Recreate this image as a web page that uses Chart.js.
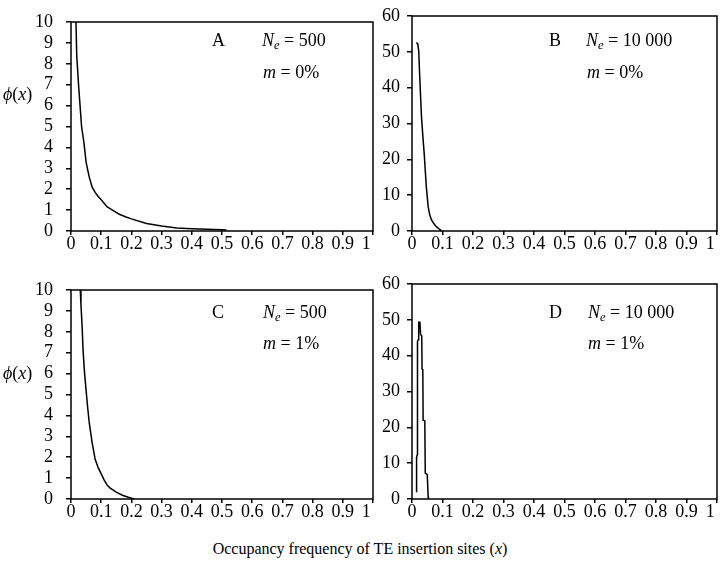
<!DOCTYPE html>
<html>
<head>
<meta charset="utf-8">
<script src="https://cdn.jsdelivr.net/npm/chart.js@4.4.1/dist/chart.umd.min.js"></script>
<style>
  html, body { margin: 0; padding: 0; background: #fff; overflow: hidden; }
  #wrap { position: relative; width: 720px; height: 563px; font-family: "Liberation Serif", "Times New Roman", serif; color: #000; }
  canvas { position: absolute; }
  .t { position: absolute; font-size: 18px; line-height: 1; white-space: nowrap; }
  .t sub { font-size: 0.7em; vertical-align: -0.25em; line-height: 0; }
</style>
</head>
<body>
<div id="wrap">
  <canvas id="cA" width="380" height="262" style="left:0;top:0"></canvas>
  <canvas id="cB" width="348" height="262" style="left:372px;top:0"></canvas>
  <canvas id="cC" width="380" height="262" style="left:0;top:268px"></canvas>
  <canvas id="cD" width="348" height="262" style="left:372px;top:268px"></canvas>

  <div class="t" style="left:3px;top:85px"><i>ϕ</i>(<i>x</i>)</div>
  <div class="t" style="left:3px;top:364px"><i>ϕ</i>(<i>x</i>)</div>

  <div class="t" style="left:212px;top:31px">A</div>
  <div class="t" style="left:262px;top:31px"><i>N</i><sub><i>e</i></sub> = 500</div>
  <div class="t" style="left:263px;top:63px"><i>m</i> = 0%</div>

  <div class="t" style="left:549px;top:31px">B</div>
  <div class="t" style="left:586px;top:31px"><i>N</i><sub><i>e</i></sub> = 10 000</div>
  <div class="t" style="left:587px;top:63px"><i>m</i> = 0%</div>

  <div class="t" style="left:212px;top:303px">C</div>
  <div class="t" style="left:263px;top:303px"><i>N</i><sub><i>e</i></sub> = 500</div>
  <div class="t" style="left:263px;top:334px"><i>m</i> = 1%</div>

  <div class="t" style="left:549px;top:303px">D</div>
  <div class="t" style="left:588px;top:303px"><i>N</i><sub><i>e</i></sub> = 10 000</div>
  <div class="t" style="left:588px;top:334px"><i>m</i> = 1%</div>

  <div class="t" style="left:0;width:720px;text-align:center;top:541px;font-size:16px">Occupancy frequency of TE insertion sites (<i>x</i>)</div>
</div>
<script>
// x ticks shared by all panels
var xTicks = [0, 0.1, 0.2, 0.3, 0.4, 0.5, 0.6, 0.7, 0.8, 0.9, 1];

// A: Ne = 500, m = 0%
var xA = [0.016, 0.019, 0.025, 0.030, 0.035, 0.043, 0.050, 0.060, 0.070, 0.080, 0.090, 0.100, 0.120, 0.140, 0.160, 0.180, 0.200, 0.250, 0.300, 0.350, 0.400, 0.450, 0.500, 0.515];
var yA = [10.3, 8.4, 7.0, 6.0, 5.0, 4.2, 3.3, 2.6, 2.1, 1.85, 1.65, 1.5, 1.15, 0.98, 0.8, 0.68, 0.58, 0.36, 0.24, 0.14, 0.11, 0.08, 0.06, 0.05];

// B: Ne = 10 000, m = 0%
var xB = [0.014, 0.019, 0.022, 0.025, 0.031, 0.036, 0.040, 0.047, 0.053, 0.058, 0.064, 0.072, 0.080, 0.090, 0.098];
var yB = [52.6, 52.2, 50.3, 43.8, 32.0, 26.0, 21.6, 12.3, 6.8, 4.5, 3.1, 2.0, 1.2, 0.5, 0.0];

// C: Ne = 500, m = 1%
var xC = [0.030, 0.033, 0.037, 0.040, 0.045, 0.050, 0.055, 0.060, 0.065, 0.070, 0.080, 0.090, 0.100, 0.110, 0.120, 0.130, 0.150, 0.170, 0.190, 0.200, 0.210];
var yC = [10.2, 9.3, 8.2, 7.1, 6.0, 5.2, 4.4, 3.7, 3.2, 2.7, 1.9, 1.5, 1.2, 0.9, 0.66, 0.52, 0.33, 0.18, 0.08, 0.04, 0.0];

// D: Ne = 10 000, m = 1%
var xD = [0.0145, 0.0150, 0.0177, 0.0180, 0.0210, 0.0220, 0.0260, 0.0280, 0.0320, 0.0330, 0.0355, 0.0365, 0.0420, 0.0435, 0.0500, 0.0530, 0.0540];
var yD = [2.0, 11.6, 12.5, 44.0, 44.5, 49.3, 49.3, 46.0, 45.5, 36.3, 36.0, 22.0, 21.8, 7.2, 6.8, 0.6, 0.0];

function pts(xs, ys) {
  return xs.map(function (x, i) { return { x: x, y: ys[i] }; });
}

// draws the box round the plot area
var frame = {
  id: 'frame',
  afterDraw: function (chart) {
    var a = chart.chartArea, ctx = chart.ctx;
    ctx.save();
    ctx.strokeStyle = '#000';
    ctx.lineWidth = 1.5;
    ctx.strokeRect(a.left, a.top, a.right - a.left, a.bottom - a.top);
    ctx.restore();
  }
};

function panel(id, data, yMax, yStep, yWidth, yPad, padRight) {
  var tickFont = { family: '"Liberation Serif", "Times New Roman", serif', size: 18, lineHeight: 1 };
  new Chart(document.getElementById(id), {
    type: 'line',
    data: {
      datasets: [{
        data: data,
        borderColor: '#000',
        borderWidth: 1.5,
        pointRadius: 0,
        tension: 0,
        fill: false
      }]
    },
    options: {
      responsive: false,
      animation: false,
      events: [],
      layout: { padding: { top: 15, right: padRight, left: 0, bottom: 0 } },
      plugins: { legend: { display: false }, tooltip: { enabled: false } },
      scales: {
        x: {
          type: 'linear',
          min: 0, max: 1,
          afterBuildTicks: function (s) { s.ticks = xTicks.map(function (v) { return { value: v }; }); },
          afterFit: function (s) { s.height = 31; s.paddingLeft = 0; s.paddingRight = 0; },
          border: { display: false },
          grid: { drawOnChartArea: false, drawTicks: true, tickLength: 4, color: '#000', lineWidth: 1.5 },
          ticks: {
            color: '#000', font: tickFont, padding: 0, maxRotation: 0, autoSkip: false,
            callback: function (v) { return v === 1 ? '1\u2002 ' : String(v); }
          }
        },
        y: {
          min: 0, max: yMax,
          afterFit: function (s) { s.width = yWidth; },
          border: { display: false },
          grid: { drawOnChartArea: false, drawTicks: true, tickLength: 5, color: '#000', lineWidth: 1.5 },
          ticks: { color: '#000', font: tickFont, padding: yPad, stepSize: yStep, autoSkip: false }
        }
      }
    },
    plugins: [frame]
  });
}

panel('cA', pts(xA, yA), 10, 1, 71, 13, 7);
panel('cB', pts(xB, yB), 60, 10, 40, 7, 3);
panel('cC', pts(xC, yC), 10, 1, 71, 13, 7);
panel('cD', pts(xD, yD), 60, 10, 40, 7, 3);
</script>
</body>
</html>
